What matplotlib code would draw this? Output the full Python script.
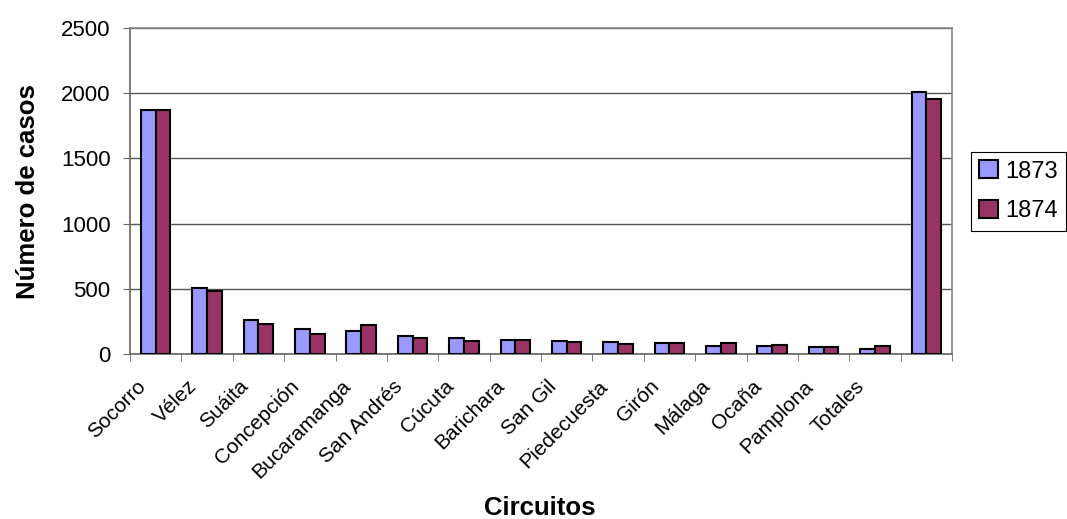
import numpy as np
import matplotlib.pyplot as plt
import matplotlib.transforms as mtransforms
from matplotlib.patches import Patch

plt.rcParams['font.family'] = ['Liberation Sans', 'DejaVu Sans']

# Data
circuitos = ['Socorro', 'Vélez', 'Suáita', 'Concepción', 'Bucaramanga', 'San Andrés',
             'Cúcuta', 'Barichara', 'San Gil', 'Piedecuesta', 'Girón', 'Málaga',
             'Ocaña', 'Pamplona', 'Totales', '']
casos_1873 = [1874, 503, 263, 194, 176, 140, 120, 104, 97, 92, 87, 61, 61, 56, 41, 2012]
casos_1874 = [1874, 480, 232, 156, 225, 120, 97, 104, 89, 77, 87, 81, 71, 56, 61, 1956]

fig = plt.figure(figsize=(10.67, 5.19), dpi=100)
ax = fig.add_axes([130 / 1067, 1 - 354 / 519, 822 / 1067, 326 / 519])

x = np.arange(len(circuitos))
w = 0.286
ax.bar(x - w / 2, casos_1873, w, color='#9999FF', edgecolor='black', linewidth=1.5, zorder=3)
ax.bar(x + w / 2, casos_1874, w, color='#993366', edgecolor='black', linewidth=1.5, zorder=3)

ax.set_xlim(-0.5, len(circuitos) - 0.5)
ax.set_ylim(0, 2500)
ax.set_yticks(range(0, 2501, 500))
ax.yaxis.grid(True, color='#555555', linewidth=1, zorder=0)

# category labels near group centres, tick marks at boundaries
ax.set_xticks(x)
ax.set_xticklabels(circuitos, rotation=45, ha='right', rotation_mode='anchor', fontsize=15)
ax.tick_params(axis='x', length=0, pad=9)
shift = mtransforms.ScaledTranslation(-20 / 100, -10 / 100, fig.dpi_scale_trans)
for lbl in ax.get_xticklabels():
    lbl.set_transform(lbl.get_transform() + shift)
ax.set_xticks(np.arange(-0.5, len(circuitos)), minor=True)
ax.tick_params(axis='x', which='minor', length=5, color='#666666', direction='out')
ax.tick_params(axis='y', labelsize=16, length=5, color='#666666', direction='out', pad=9)

for side in ['top', 'right']:
    ax.spines[side].set_color('#888888')
ax.spines['left'].set_color('#666666')
ax.spines['bottom'].set_color('#666666')
for s in ax.spines.values():
    s.set_linewidth(1.2)

fig.text(540 / 1067, 1 - 508 / 519, 'Circuitos', fontsize=18.5, fontweight='bold',
         ha='center', va='center')
fig.text(28 / 1067, 1 - 192 / 519, 'Número de casos', fontsize=18.5, fontweight='bold',
         ha='center', va='center', rotation=90)

handles = [Patch(facecolor='#9999FF', edgecolor='black', linewidth=1.5, label='1873'),
           Patch(facecolor='#993366', edgecolor='black', linewidth=1.5, label='1874')]
leg = fig.legend(handles=handles, loc='upper left', bbox_to_anchor=(971 / 1067, 1 - 152 / 519),
                 fontsize=17, fancybox=False, edgecolor='black', framealpha=1,
                 handlelength=0.8, handleheight=0.8, handletextpad=0.3,
                 borderpad=0.35, labelspacing=0.75, borderaxespad=0)
leg.get_frame().set_linewidth(0.8)

fig.savefig('out.png', dpi=100)
